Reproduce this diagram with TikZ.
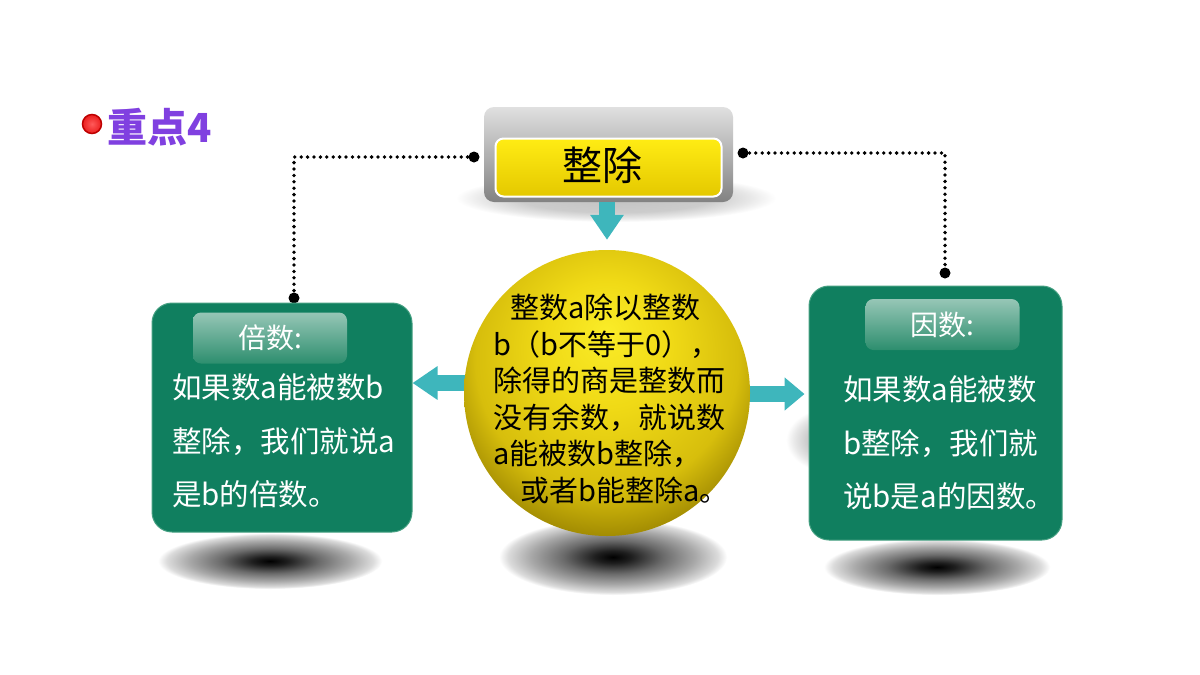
\documentclass[tikz,border=0pt]{standalone}
\usepackage{fontspec}
\newfontfamily\cjk{Noto Sans CJK SC}
\usetikzlibrary{arrows.meta}
\definecolor{teal1}{RGB}{62,182,188}
\definecolor{boxgreen}{RGB}{16,127,95}
\definecolor{boxedge}{RGB}{70,160,130}
\definecolor{pilltop}{RGB}{150,198,182}
\definecolor{pillbot}{RGB}{45,142,110}
\definecolor{purp}{RGB}{128,64,224}
\definecolor{grayTop}{RGB}{224,224,224}
\definecolor{grayBot}{RGB}{130,130,130}
\definecolor{ylwTop}{RGB}{255,236,20}
\definecolor{ylwBot}{RGB}{228,200,0}
\definecolor{ylA}{RGB}{250,236,40}
\definecolor{ylB}{RGB}{240,218,22}
\definecolor{ylC}{RGB}{215,190,12}
\definecolor{ylD}{RGB}{150,128,0}
\definecolor{ylE}{RGB}{85,72,0}
\definecolor{redA}{RGB}{255,90,90}
\definecolor{redB}{RGB}{235,30,30}
\definecolor{redEdge}{RGB}{190,0,0}
\pgfdeclareradialshading{sphereshade}{\pgfpoint{0bp}{11bp}}{color(0bp)=(ylA); color(11bp)=(ylB); color(23bp)=(ylC); color(31bp)=(ylD); color(37bp)=(ylE); color(50bp)=(ylE)}
\pgfdeclareradialshading{shadowshade}{\pgfpoint{0bp}{0bp}}{color(0bp)=(black); color(4bp)=(black!88); color(11bp)=(black!58); color(18bp)=(black!34); color(23bp)=(black!14); color(25bp)=(white); color(50bp)=(white)}
\pgfdeclareradialshading{lightshadow}{\pgfpoint{0bp}{0bp}}{color(0bp)=(black!24); color(15bp)=(black!20); color(21bp)=(black!9); color(25bp)=(white); color(50bp)=(white)}
\begin{document}
\begin{tikzpicture}[x=1pt,y=-1pt,
  greenbox/.style={draw=boxedge, line width=1pt, fill=boxgreen, rounded corners=20pt, inner sep=0pt},
  pill/.style={rounded corners=8pt, top color=pilltop, bottom color=pillbot, text=white,
    font={\cjk\fontsize{28}{32}\selectfont}, minimum width=154pt, minimum height=51pt, inner sep=0pt},
  boxtext/.style={text=white, align=left, anchor=west, inner sep=0pt,
    font={\cjk\fontsize{29.5}{53.5}\selectfont}},
  blockarrow/.style={draw=teal1, line width=16pt, -{Triangle[length=25pt,width=32pt,fill=teal1]}},
  dotline/.style={line width=3.8pt, dash pattern=on 0pt off 6.4pt, line cap=round},
  dotend/.style={fill=black}
]
\useasboundingbox (0,0) rectangle (1200,675);
\fill[white] (0,0) rectangle (1200,675);

% shadows
\path[shading=lightshadow] (616,198) ellipse [x radius=160, y radius=24];
\path[shading=lightshadow] (838,440) ellipse [x radius=52, y radius=34];
\path[shading=shadowshade] (270,561) ellipse [x radius=112, y radius=28];
\path[shading=shadowshade] (613,557) ellipse [x radius=114, y radius=38];
\path[shading=shadowshade] (937,567) ellipse [x radius=113, y radius=28];

% dotted connectors
\coordinate (dl) at (474,157);
\coordinate (dlb) at (294,298);
\coordinate (dr) at (743,153);
\coordinate (drb) at (945,273);
\draw[dotline] (dl) -| (dlb);
\draw[dotline] (dr) -| (drb);
\fill[dotend] (dl) circle (5.5);
\fill[dotend] (dlb) circle (5.5);
\fill[dotend] (dr) circle (5.5);
\fill[dotend] (drb) circle (5.5);

% title
\node[circle, minimum size=19pt, inner sep=0pt, draw=redEdge, line width=1.5pt,
  inner color=redA, outer color=redB] (bullet) at (92,124) {};
\node[anchor=west, inner sep=0pt, text=purp, font={\cjk\bfseries\fontsize{40}{44}\selectfont}] (title) at (107,127) {重点4};

% top box
\node[rounded corners=10pt, top color=grayTop, bottom color=grayBot, minimum width=249pt,
  minimum height=95pt, inner sep=0pt] (topgray) at (608.5,154.5) {};
\node[rounded corners=8pt, draw=white, line width=2pt, top color=ylwTop, bottom color=ylwBot,
  minimum width=226pt, minimum height=58pt, inner sep=0pt] (topbox) at (608.5,167.5) {};
\node[inner sep=0pt, font={\cjk\fontsize{40}{44}\selectfont}] (toptext) at (602,165) {整除};

% green boxes
\node[greenbox, minimum width=260pt, minimum height=229pt] (leftbox) at (282,417.5) {};
\node[greenbox, minimum width=253pt, minimum height=254pt] (rightbox) at (935.5,413) {};
\node[pill] (lpill) at (270,338) {倍数:};
\node[pill] (rpill) at (942.5,324.5) {因数:};
\node[boxtext] (ltext) at (172,441) {如果数a能被数b\\整除，我们就说a\\是b的倍数。};
\node[boxtext] (rtext) at (843,443) {如果数a能被数\\b整除，我们就\\说b是a的因数。};

% sphere
\node[circle, minimum size=286pt, inner sep=0pt] (ball) at (607,393) {};
\draw[blockarrow, shorten >=10pt] (topgray.south -| ball.north) -- (ball.north);
\draw[blockarrow] ([yshift=10pt]ball.center) -- ([yshift=10pt]ball.center -| leftbox.east);
\draw[blockarrow, -{Triangle[length=20pt,width=32pt,fill=teal1]}, shorten >=4pt] ([yshift=-1pt]ball.center) -- ([yshift=-1pt]ball.center -| rightbox.west);
\path[shading=sphereshade] (ball.center) circle (143);
\node[anchor=west, inner sep=0pt, align=left, font={\cjk\fontsize{29}{36.5}\selectfont}] (balltext) at (493,399)
  {\hspace*{17pt}整数a除以整数\\b（b不等于0），\\除得的商是整数而\\没有余数，就说数\\a能被数b整除，\\\hspace*{27pt}或者b能整除a。};
\end{tikzpicture}
\end{document}
